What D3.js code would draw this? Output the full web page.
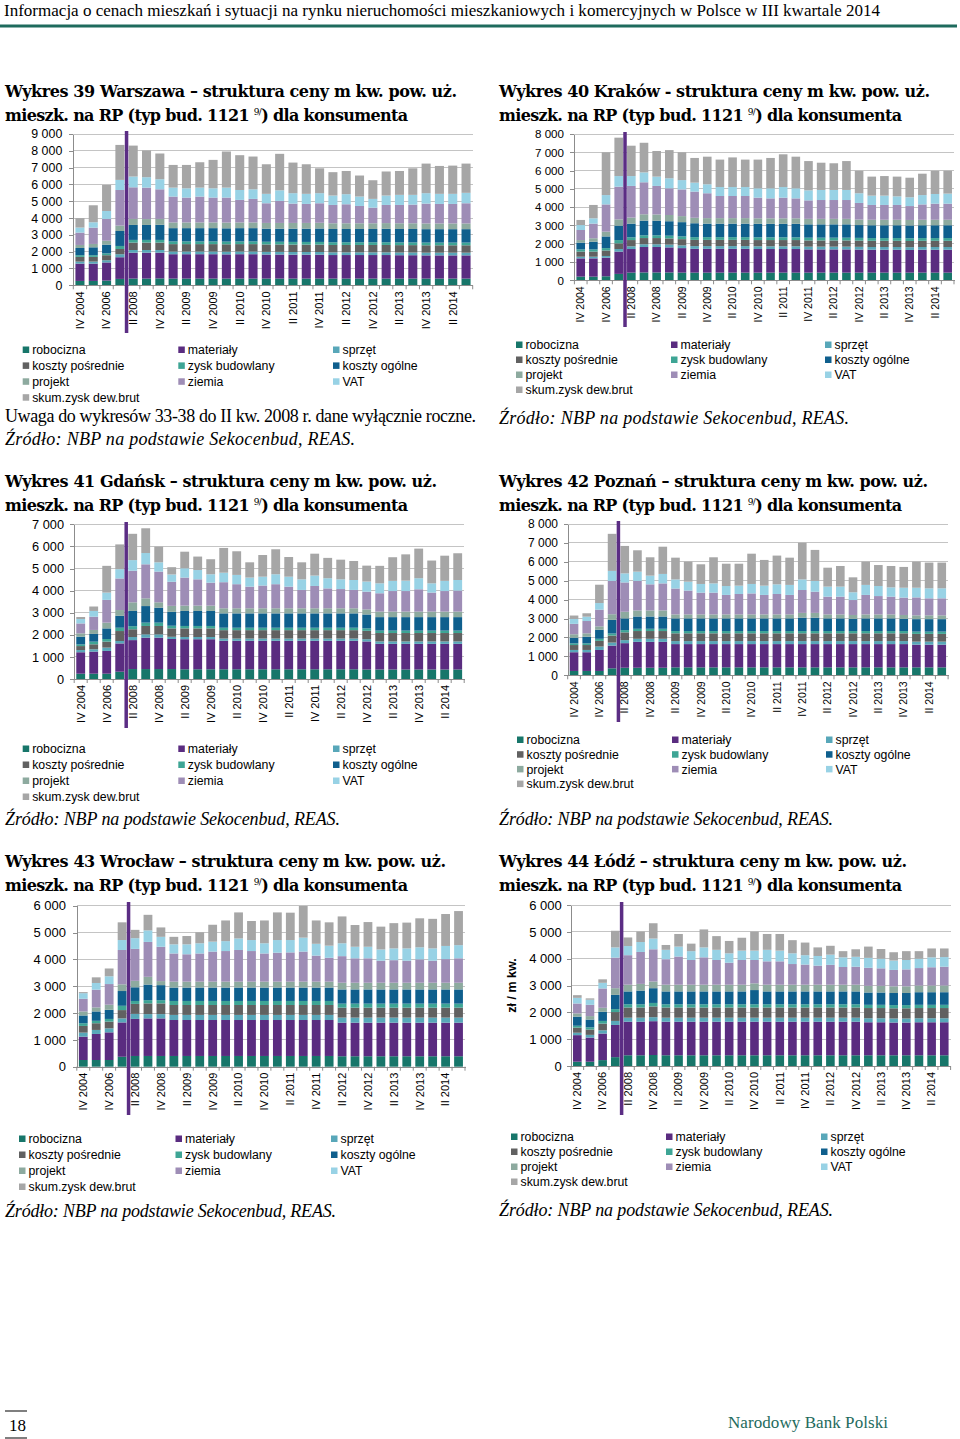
<!DOCTYPE html>
<html lang="pl">
<head>
<meta charset="utf-8">
<script src="https://d3js.org/d3.v7.min.js"></script>
<style type="text/css">
body { margin: 0; background: #fff; }
svg text { font-family: "Liberation Sans", Arial, sans-serif; fill: #000; }
.head { font-family: "Liberation Serif", serif; font-size: 17px; }
.title { font-family: "DejaVu Serif", serif; font-weight: bold; font-size: 16px; }
.note { font-family: "Liberation Serif", serif; font-size: 18px; }
.note.it { font-style: italic; }
.foot { font-family: "Liberation Serif", serif; font-size: 17px; }
.axis path, .axis line { stroke: #8c8c8c; shape-rendering: crispEdges; }
.grid { stroke: #c4c4c4; shape-rendering: crispEdges; }
.leg { font-size: 12.3px; }
</style>
<title>Struktura ceny m kw. - wykresy 39-44</title>
</head>
<body>
<script type="text/javascript">
// kategorie (kwartały)
var quarters = ["IV 2004","IV 2005","IV 2006","IV 2007","II 2008","III 2008","IV 2008","I 2009","II 2009","III 2009",
  "IV 2009","I 2010","II 2010","III 2010","IV 2010","I 2011","II 2011","III 2011","IV 2011","I 2012",
  "II 2012","III 2012","IV 2012","I 2013","II 2013","III 2013","IV 2013","I 2014","II 2014","III 2014"];
var seriesNames = ["robocizna","materiały","sprzęt","koszty pośrednie","zysk budowlany","koszty ogólne","projekt","ziemia","VAT","skum.zysk dew.brut"];
var colors = ["#17766a","#5a2c80","#58a7b9","#616161","#3ea595","#0f5f8d","#8daa9f","#9e8db6","#98d2e5","#a6a6a6"];

// Warszawa
var wawRob = [260,260,280,380,400,400,410,400,400,400,400,400,400,400,400,400,400,400,400,400,400,400,400,400,400,400,400,400,400,400];
var wawMat = [1030,1030,1080,1290,1540,1540,1530,1450,1450,1450,1450,1440,1450,1450,1430,1430,1420,1420,1420,1400,1400,1400,1400,1400,1390,1390,1380,1380,1380,1380];
var wawSprz = [120,120,130,180,160,160,160,160,160,160,160,160,160,160,160,160,160,160,160,160,160,160,160,160,160,160,160,160,160,160];
var wawKpos = [280,280,300,310,440,440,440,440,440,440,440,440,440,440,440,440,440,440,440,440,440,440,440,440,440,440,440,440,440,440];
var wawZysk = [100,100,110,180,160,160,160,160,160,160,160,160,160,160,160,160,160,160,160,160,160,160,160,160,160,160,160,160,160,160];
var wawKogol = [430,470,520,890,890,890,900,790,790,790,790,790,790,790,780,780,790,790,800,790,790,790,790,800,800,800,800,800,800,800];
var wawProj = [180,200,230,320,360,350,350,340,340,340,340,340,340,340,340,340,340,340,340,340,340,340,340,340,340,340,340,340,340,340];
var wawZiem = [735,970,1300,2120,1880,1870,1760,1540,1480,1540,1480,1490,1340,1400,1170,1310,1150,1130,1160,1090,1130,1030,930,1080,1090,1110,1180,1160,1160,1200];
var wawVat = [300,320,470,600,640,620,600,530,550,530,550,590,590,570,560,630,620,600,600,560,600,560,520,560,600,580,620,600,600,620];
var wawSkum = [560,1010,1550,2080,1840,1590,1530,1350,1390,1510,1690,2150,2070,1950,1760,2170,1820,1760,1480,1390,1380,1250,1110,1430,1420,1580,1760,1660,1680,1740];

// Kraków
var krkRob = [200,200,220,350,420,430,430,430,420,420,420,420,420,420,420,420,420,420,420,420,420,420,420,420,420,420,420,420,420,420];
var krkMat = [1000,1000,1020,1220,1290,1390,1390,1370,1340,1300,1300,1300,1300,1300,1290,1290,1290,1290,1270,1270,1270,1270,1260,1250,1250,1250,1240,1250,1250,1250];
var krkSprz = [90,90,90,140,150,150,150,150,150,150,150,150,150,150,150,150,150,150,150,150,150,150,150,150,150,150,150,150,150,150];
var krkKpos = [280,280,300,310,340,340,340,340,340,340,340,340,340,340,340,340,340,340,340,340,340,340,340,340,340,340,340,340,340,340];
var krkZysk = [120,120,130,180,150,150,150,150,150,150,150,150,150,150,150,150,150,150,150,150,150,150,150,150,150,150,150,150,150,150];
var krkKogol = [370,420,640,790,750,800,800,790,780,760,740,740,740,740,740,740,740,740,730,730,730,730,700,700,700,700,700,700,700,700];
var krkProj = [140,190,260,340,330,350,340,340,330,300,300,300,300,300,300,300,300,300,300,300,300,300,300,300,300,300,300,300,300,300];
var krkZiem = [550,800,1490,1790,1730,1750,1560,1460,1460,1430,1360,1210,1210,1210,1130,1090,1130,1090,1010,1030,1030,1030,910,810,810,810,760,840,880,880];
var krkVat = [270,290,510,580,540,540,510,550,510,490,490,490,490,490,510,550,580,550,550,550,550,550,530,510,510,470,480,510,530,550];
var krkSkum = [280,730,2340,2100,1660,1620,1400,1540,1520,1350,1510,1500,1620,1500,1570,1660,1790,1730,1600,1490,1460,1580,1230,1040,1070,1080,1070,1170,1270,1250];

// Gdańsk
var gdaRob = [240,240,240,330,450,450,450,450,440,440,440,440,440,440,440,440,440,440,440,440,440,440,430,430,430,430,430,430,430,430];
var gdaMat = [970,1000,1030,1280,1310,1420,1420,1360,1360,1360,1360,1290,1290,1290,1290,1290,1290,1290,1290,1290,1290,1290,1270,1160,1160,1160,1160,1160,1160,1160];
var gdaSprz = [100,105,150,110,140,150,150,100,100,100,100,100,100,100,100,100,100,100,100,100,100,100,100,110,110,110,110,110,110,110];
var gdaKpos = [180,225,270,450,350,380,380,380,390,390,390,380,380,380,380,380,380,380,380,380,380,380,380,380,380,380,380,380,380,380];
var gdaZysk = [75,120,120,150,140,150,150,120,110,110,110,110,110,110,110,110,110,110,110,110,110,110,110,110,110,110,110,110,110,110];
var gdaKogol = [350,350,480,540,690,750,680,630,680,680,680,650,650,650,650,650,650,650,650,650,650,650,630,610,610,610,610,610,610,610];
var gdaProj = [150,180,260,260,390,350,240,270,240,240,240,230,230,230,230,230,230,230,230,230,230,230,230,250,250,250,250,250,250,250];
var gdaZiem = [450,600,1030,1430,1430,1540,1390,1090,1270,1190,1040,1180,1090,980,1030,1090,980,830,1010,900,870,830,800,830,930,930,1010,860,930,950];
var gdaVat = [200,260,330,420,480,510,420,330,420,420,380,430,420,410,400,450,450,480,470,460,440,450,460,450,460,470,500,420,460,480];
var gdaSkum = [90,200,1210,1120,1190,1120,710,330,750,610,680,1120,1070,690,980,1130,890,770,990,920,890,860,720,790,1070,1190,1340,1030,1140,1210];

// Poznań
var pozRob = [230,230,230,370,400,400,400,400,420,420,420,420,420,420,420,420,420,420,420,420,420,420,420,420,420,420,420,420,420,420];
var pozMat = [990,990,1110,1200,1300,1370,1370,1370,1230,1230,1230,1230,1230,1230,1230,1230,1230,1230,1230,1230,1230,1230,1230,1230,1230,1230,1230,1200,1200,1200];
var pozSprz = [120,120,180,160,160,160,160,160,160,160,160,160,160,160,160,160,160,160,160,160,160,160,160,160,160,160,160,160,160,160];
var pozKpos = [260,260,300,370,410,410,410,410,410,410,410,410,410,410,410,410,410,410,410,410,410,410,410,410,410,410,410,410,410,410];
var pozZysk = [90,90,110,110,120,120,120,120,120,120,120,120,120,120,120,120,120,120,120,120,120,120,120,120,120,120,120,120,120,120];
var pozKogol = [300,350,480,720,620,650,650,650,670,670,670,670,670,670,670,670,670,670,710,710,670,670,650,670,670,670,650,660,660,660];
var pozProj = [180,180,180,300,350,320,320,320,210,210,210,210,210,210,210,210,210,210,250,250,210,210,200,210,210,210,200,200,200,200];
var pozZiem = [550,650,880,1760,1550,1560,1380,1430,1370,1260,1150,1150,1030,1080,1110,1030,1080,1030,1210,1120,940,940,790,1030,970,940,920,950,900,900];
var pozVat = [260,230,350,530,480,490,460,500,480,470,460,490,470,440,500,490,510,530,560,570,530,530,410,530,530,490,520,510,530,530];
var pozSkum = [180,180,970,1960,1450,1130,970,1440,1150,1060,1040,1380,1180,1160,1600,1360,1520,1440,1940,1640,1000,1090,790,1230,1110,1130,1100,1380,1360,1360];

// Wrocław
var wroRob = [250,250,250,370,400,400,400,400,400,400,400,400,400,400,400,400,400,400,400,400,390,390,390,390,390,390,390,390,390,390];
var wroMat = [870,970,1030,1280,1380,1400,1400,1340,1340,1340,1340,1340,1340,1340,1340,1340,1340,1340,1340,1340,1250,1250,1250,1250,1250,1250,1250,1250,1250,1250];
var wroSprz = [150,150,150,150,190,160,160,190,190,190,190,190,190,190,190,190,190,190,190,190,190,190,190,190,190,190,190,190,190,190];
var wroKpos = [250,250,250,310,370,400,400,370,370,370,370,370,370,370,370,370,370,370,370,370,370,370,370,370,370,370,370,370,370,370];
var wroZysk = [100,90,100,160,110,120,120,150,150,150,150,150,150,150,150,150,150,150,150,150,150,150,150,150,150,150,150,150,150,150];
var wroKogol = [290,350,340,550,510,580,560,500,500,500,500,500,500,500,500,500,500,500,500,500,530,530,530,530,530,530,530,530,530,530];
var wroProj = [150,150,190,250,240,290,150,220,220,220,220,220,220,220,220,220,220,220,220,220,250,250,250,250,250,250,250,250,250,250];
var wroZiem = [470,660,770,1280,1190,1300,1280,1050,1020,1050,1120,1140,1180,1140,1050,1080,1090,1120,970,890,990,910,910,820,840,820,870,820,880,910];
var wroVat = [210,250,290,370,400,430,370,340,370,380,370,370,430,410,380,470,460,520,440,450,480,430,430,420,440,460,450,460,490,490];
var wroSkum = [40,210,290,660,310,580,350,280,310,410,630,770,970,710,850,1030,1020,1180,870,870,1000,810,920,850,940,960,1080,1100,1190,1270];

// Łódź
var lodRob = [160,160,220,330,400,400,410,400,400,400,400,400,400,400,400,400,400,400,400,400,400,400,400,400,400,400,400,400,400,400];
var lodMat = [990,900,990,1200,1250,1250,1260,1250,1250,1250,1250,1250,1250,1250,1250,1250,1250,1250,1250,1250,1250,1250,1250,1230,1230,1220,1220,1230,1230,1230];
var lodSprz = [90,100,120,150,150,150,150,150,150,150,150,150,150,150,150,150,150,150,150,150,150,150,150,150,150,150,150,150,150,150];
var lodKpos = [190,200,250,330,380,380,400,380,380,380,380,380,380,380,380,380,380,380,380,380,380,380,380,380,380,380,380,380,380,380];
var lodZysk = [70,80,100,110,120,120,130,120,120,120,120,120,120,120,120,120,120,120,120,120,120,120,120,120,120,120,120,120,120,120];
var lodKogol = [340,290,340,530,480,510,550,480,480,480,480,480,480,480,530,480,480,480,480,480,480,480,480,460,460,450,450,470,470,470];
var lodProj = [120,130,150,250,250,250,250,250,250,250,250,250,250,250,250,250,250,250,250,250,250,250,250,250,250,250,250,250,250,250];
var lodZiem = [370,420,720,1140,1100,1190,1200,950,1050,920,1020,920,820,920,870,870,870,770,750,710,740,660,670,670,650,610,630,650,680,700];
var lodVat = [210,190,210,380,340,370,400,350,370,330,370,380,350,350,350,430,400,400,350,360,380,360,370,370,360,350,350,350,370,360];
var lodSkum = [100,50,130,620,320,390,570,180,470,280,670,510,460,480,710,590,620,490,470,320,330,230,280,420,360,310,330,280,330,320];

var keys = ["rob","mat","sprz","kpos","zysk","kogol","proj","ziem","vat","skum"];
var src = "Źródło: NBP na podstawie Sekocenbud, REAS.";

var charts = [
  {t1: "Wykres 39 Warszawa – struktura ceny m kw. pow. uż.", w1: 452, tx: 5, ty: 97,
   series: [wawRob,wawMat,wawSprz,wawKpos,wawZysk,wawKogol,wawProj,wawZiem,wawVat,wawSkum],
   x0: 73.3, x1: 472.7, yTop: 134, yBot: 285.3, maxV: 9000, pad: 7, tf: 12.4, xf: 11,
   lineTop: 131, lineBot: 333, legX: [22.7,178.3,333], legY: 350, legDy: 15.9,
   notes: [["Uwaga do wykresów 33-38  do II kw. 2008 r. dane wyłącznie roczne.", 422, 471, false], [src, 445, 350, true]]},
  {t1: "Wykres 40 Kraków - struktura ceny m kw. pow. uż.", w1: 431, tx: 499, ty: 97,
   series: [krkRob,krkMat,krkSprz,krkKpos,krkZysk,krkKogol,krkProj,krkZiem,krkVat,krkSkum],
   x0: 574.4, x1: 954, yTop: 134, yBot: 280.3, maxV: 8000, pad: 6.4, tf: 11.6, xf: 10.5,
   lineTop: 132, lineBot: 327, legX: [516,671,825], legY: 345, legDy: 15,
   notes: [[src, 424, 350, true]]},
  {t1: "Wykres 41 Gdańsk – struktura ceny m kw. pow. uż.", w1: 432, tx: 5, ty: 487,
   series: [gdaRob,gdaMat,gdaSprz,gdaKpos,gdaZysk,gdaKogol,gdaProj,gdaZiem,gdaVat,gdaSkum],
   x0: 74.2, x1: 464.2, yTop: 524.3, yBot: 679, maxV: 7000, pad: 6.2, tf: 12.8, xf: 11,
   lineTop: 522, lineBot: 728, legX: [22.7,178.3,333], legY: 749, legDy: 16,
   notes: [[src, 825, 335, true]]},
  {t1: "Wykres 42 Poznań – struktura ceny m kw. pow. uż.", w1: 429, tx: 499, ty: 487,
   series: [pozRob,pozMat,pozSprz,pozKpos,pozZysk,pozKogol,pozProj,pozZiem,pozVat,pozSkum],
   x0: 567.7, x1: 948.1, yTop: 524, yBot: 675.3, maxV: 8000, pad: 5.7, tf: 12, xf: 10.5,
   lineTop: 521, lineBot: 722, legX: [517,672,826], legY: 740, legDy: 14.7,
   notes: [[src, 825, 334, true]]},
  {t1: "Wykres 43 Wrocław – struktura ceny m kw. pow. uż.", w1: 441, tx: 5, ty: 867,
   series: [wroRob,wroMat,wroSprz,wroKpos,wroZysk,wroKogol,wroProj,wroZiem,wroVat,wroSkum],
   x0: 76.8, x1: 465, yTop: 905.7, yBot: 1066.7, maxV: 6000, pad: 6.8, tf: 13, xf: 11,
   lineTop: 902, lineBot: 1115, legX: [19,175.5,331], legY: 1139, legDy: 16,
   notes: [[src, 1217, 331, true]]},
  {t1: "Wykres 44 Łódź – struktura ceny m kw. pow. uż.", w1: 408, tx: 499, ty: 867,
   series: [lodRob,lodMat,lodSprz,lodKpos,lodZysk,lodKogol,lodProj,lodZiem,lodVat,lodSkum],
   x0: 571, x1: 950.6, yTop: 905, yBot: 1066, maxV: 6000, pad: 5.3, tf: 13, xf: 11,
   lineTop: 902, lineBot: 1115, legX: [511,666,821], legY: 1137, legDy: 15,
   notes: [[src, 1216, 334, true]], yTitle: "zł / m kw."}
];

var svg = d3.select("body").append("svg")
  .attr("width", 960)
  .attr("height", 1439);

// nagłówek strony
svg.append("text").attr("class", "head")
  .attr("x", 4).attr("y", 16)
  .attr("textLength", 876).attr("lengthAdjust", "spacingAndGlyphs")
  .text("Informacja o cenach mieszkań i sytuacji na rynku nieruchomości mieszkaniowych i komercyjnych w Polsce w III kwartale 2014");
svg.append("line")
  .attr("x1", 0).attr("x2", 957).attr("y1", 26).attr("y2", 26)
  .attr("stroke", "#1e6b5d").attr("stroke-width", 3);

var fmt = function(d) { return d3.format(",")(d).replace(/,/g, " "); };

charts.forEach(drawChart);

function drawChart(c) {
  var g = svg.append("g");

  // tytuł
  g.append("text").attr("class", "title")
    .attr("x", c.tx).attr("y", c.ty)
    .attr("textLength", c.w1)
    .text(c.t1);
  var t2 = g.append("text").attr("class", "title")
    .attr("x", c.tx).attr("y", c.ty + 24)
    .attr("textLength", 403);
  t2.append("tspan").text("mieszk. na RP (typ bud. 1121 ");
  t2.append("tspan").attr("font-size", "9px").attr("font-weight", "normal").attr("dy", -6).text("9/");
  t2.append("tspan").attr("dy", 6).text(") dla konsumenta");

  var x = d3.scaleBand().domain(quarters).range([c.x0, c.x1]).paddingInner(0.32).paddingOuter(0.16);
  var y = d3.scaleLinear().domain([0, c.maxV]).range([c.yBot, c.yTop]);
  var ticks = d3.range(0, c.maxV + 1, 1000);

  g.append("g").selectAll("line")
    .data(ticks.slice(1))
    .enter().append("line")
      .attr("class", "grid")
      .attr("x1", c.x0).attr("x2", c.x1)
      .attr("y1", function(d) { return y(d); })
      .attr("y2", function(d) { return y(d); });

  var rows = quarters.map(function(q, i) {
    var r = {q: q};
    keys.forEach(function(k, j) { r[k] = c.series[j][i]; });
    return r;
  });
  var stacked = d3.stack().keys(keys)(rows);

  g.append("g").selectAll("g")
    .data(stacked)
    .enter().append("g")
      .attr("fill", function(d, i) { return colors[i]; })
    .selectAll("rect")
    .data(function(d) { return d; })
    .enter().append("rect")
      .attr("x", function(d) { return x(d.data.q); })
      .attr("y", function(d) { return y(d[1]); })
      .attr("width", x.bandwidth())
      .attr("height", function(d) { return y(d[0]) - y(d[1]); });

  // oś Y
  var ya = g.append("g")
    .attr("class", "axis")
    .attr("transform", "translate(" + c.x0 + ",0)")
    .call(d3.axisLeft(y).tickValues(ticks).tickFormat(fmt).tickSize(4).tickSizeOuter(0).tickPadding(c.pad));
  ya.selectAll("text").style("font-size", c.tf + "px");

  // oś X - etykiety co drugi kwartał
  var xa = g.append("g")
    .attr("class", "axis")
    .attr("transform", "translate(0," + c.yBot + ")")
    .call(d3.axisBottom(x).tickValues(quarters.filter(function(q, i) { return i % 2 === 0; }))
      .tickSize(0).tickSizeOuter(0));
  xa.selectAll("text")
    .style("font-size", c.xf + "px")
    .attr("transform", "rotate(-90)")
    .attr("text-anchor", "end")
    .attr("x", -6).attr("y", 0).attr("dy", "0.35em");

  // kreski między słupkami
  var half = (x.step() - x.bandwidth()) / 2;
  g.append("g").selectAll("line")
    .data(quarters.concat(["end"]))
    .enter().append("line")
      .attr("stroke", "#8c8c8c")
      .attr("x1", function(d, i) { return i < quarters.length ? x(d) - half : c.x1; })
      .attr("x2", function(d, i) { return i < quarters.length ? x(d) - half : c.x1; })
      .attr("y1", c.yBot).attr("y2", c.yBot + 4);

  // pionowa linia: dane roczne / kwartalne
  var lx = (x(quarters[3]) + x(quarters[4]) + x.bandwidth()) / 2;
  g.append("line")
    .attr("x1", lx).attr("x2", lx)
    .attr("y1", c.lineTop).attr("y2", c.lineBot)
    .attr("stroke", "#5b2d84").attr("stroke-width", 3.5);

  if (c.yTitle) {
    g.append("text")
      .attr("transform", "translate(" + (c.x0 - 55) + "," + ((c.yTop + c.yBot) / 2) + ") rotate(-90)")
      .attr("text-anchor", "middle")
      .style("font-size", "12.5px").style("font-weight", "bold")
      .text(c.yTitle);
  }

  // legenda
  seriesNames.forEach(function(name, i) {
    var lx0 = c.legX[i % 3], ly = c.legY + Math.floor(i / 3) * c.legDy;
    g.append("rect")
      .attr("x", lx0).attr("y", ly - 3.5)
      .attr("width", 6.5).attr("height", 6.5)
      .attr("fill", colors[i]);
    g.append("text").attr("class", "leg")
      .attr("x", lx0 + 9.5).attr("y", ly).attr("dy", "0.35em")
      .text(name);
  });

  c.notes.forEach(function(n) {
    g.append("text").attr("class", n[3] ? "note it" : "note")
      .attr("x", c.tx).attr("y", n[1])
      .attr("textLength", n[2])
      .text(n[0]);
  });
}

// stopka
svg.append("line").attr("x1", 5).attr("x2", 27).attr("y1", 1411).attr("y2", 1411).attr("stroke", "#555").attr("stroke-width", 1.5);
svg.append("line").attr("x1", 5).attr("x2", 27).attr("y1", 1438).attr("y2", 1438).attr("stroke", "#555").attr("stroke-width", 1.5);
svg.append("text").attr("class", "foot").attr("x", 9).attr("y", 1431).text("18");
svg.append("text").attr("class", "foot").attr("x", 728).attr("y", 1428)
  .attr("textLength", 160).style("fill", "#1e6b5d").text("Narodowy Bank Polski");
</script>
</body>
</html>
